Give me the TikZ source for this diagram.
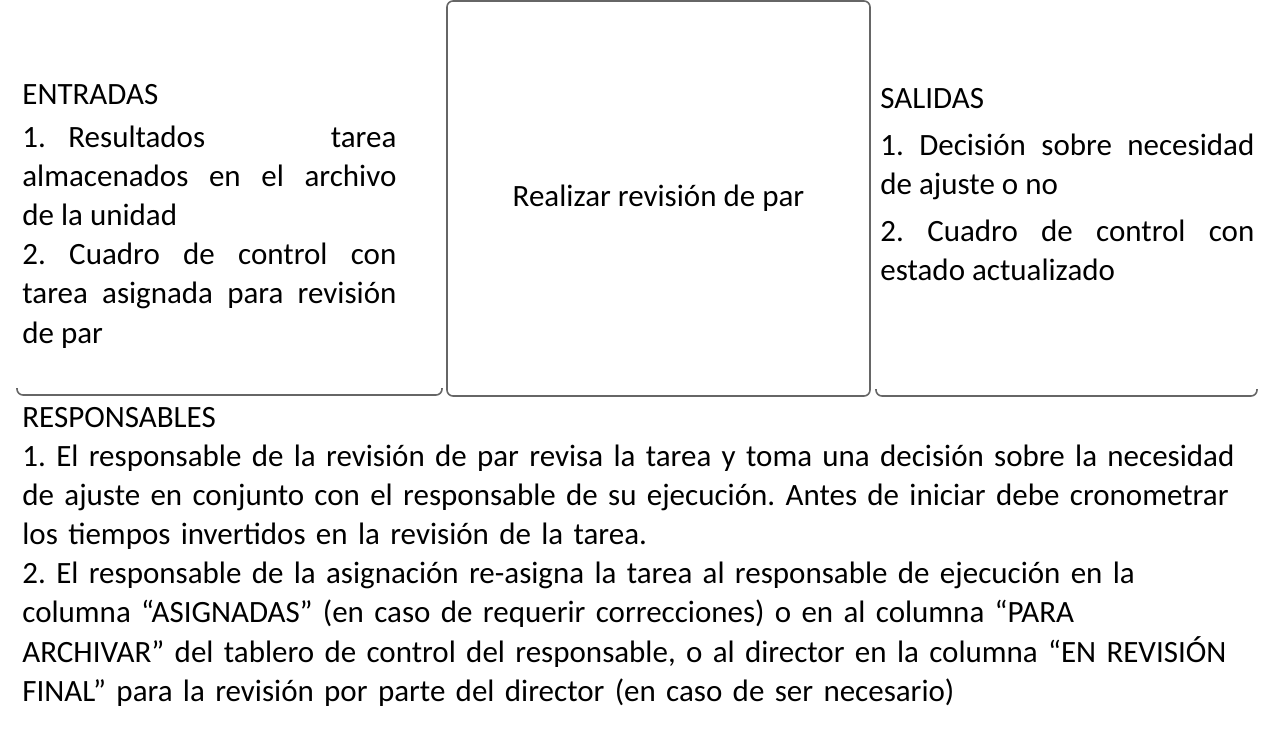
\documentclass[tikz,border=0pt]{standalone}
\usepackage{fontspec}
\setmainfont{Carlito}
\usepackage{tikz}

\begin{document}
\frenchspacing
\begin{tikzpicture}[x=0.5pt,y=-0.5pt,
    linea/.style={draw=black!60,line width=0.8pt,rounded corners=3pt},
    texto/.style={inner sep=0pt,font=\fontsize{15.5}{19.6}\selectfont},
    bloque/.style={texto,anchor=base west,text width=187pt,align=justify}]
      \useasboundingbox (0,0) rectangle (1280,729) ;
      \draw[linea] (17,388)--(17,395)--(442,395)--(442,388) ;
      \draw[linea] (876,389)--(876,396)--(1257,396)--(1257,389) ;
      \node[linea,texto,minimum width=211.5pt,minimum height=197.5pt] %
      (proceso) at (658.5,198.5) {Realizar revisión de par} ;
      \node[texto,anchor=base west] (entradas) at (22,104) {ENTRADAS} ;
      \node[bloque] (ent) at (22,147) {\makebox[23pt][l]{1.}Resultados\hfill tarea\linebreak
        almacenados en el archivo\linebreak de la unidad\par
        2. Cuadro de control con\linebreak tarea asignada para revisión\linebreak de par} ;
      \node[texto,anchor=base west] (salidas) at (880,108) {SALIDAS} ;
      \node[bloque] (sal) at (880,155) {\setlength{\parskip}{4pt}%
        1. Decisión sobre necesidad\linebreak de ajuste o no\par
        2. Cuadro de control con\linebreak estado actualizado} ;
      \node[texto,anchor=base west] (resp) at (22,427) {RESPONSABLES} ;
      \node[texto,anchor=base west,text width=625pt,align=left] (tareas) at (22,466) {%
        1. El responsable de la revisión de par revisa la tarea y toma una decisión sobre la necesidad\\
        de ajuste en conjunto con el responsable de su ejecución. Antes de iniciar debe cronometrar\\
        los tiempos invertidos en la revisión de la tarea.\\
        2. El responsable de la asignación re-asigna la tarea al responsable de ejecución en la\\
        columna “ASIGNADAS” (en caso de requerir correcciones) o en al columna “PARA\\
        ARCHIVAR” del tablero de control del responsable, o al director en la columna “EN REVISIÓN\\
        FINAL” para la revisión por parte del director (en caso de ser necesario)} ;
    \end{tikzpicture}
\end{document}
